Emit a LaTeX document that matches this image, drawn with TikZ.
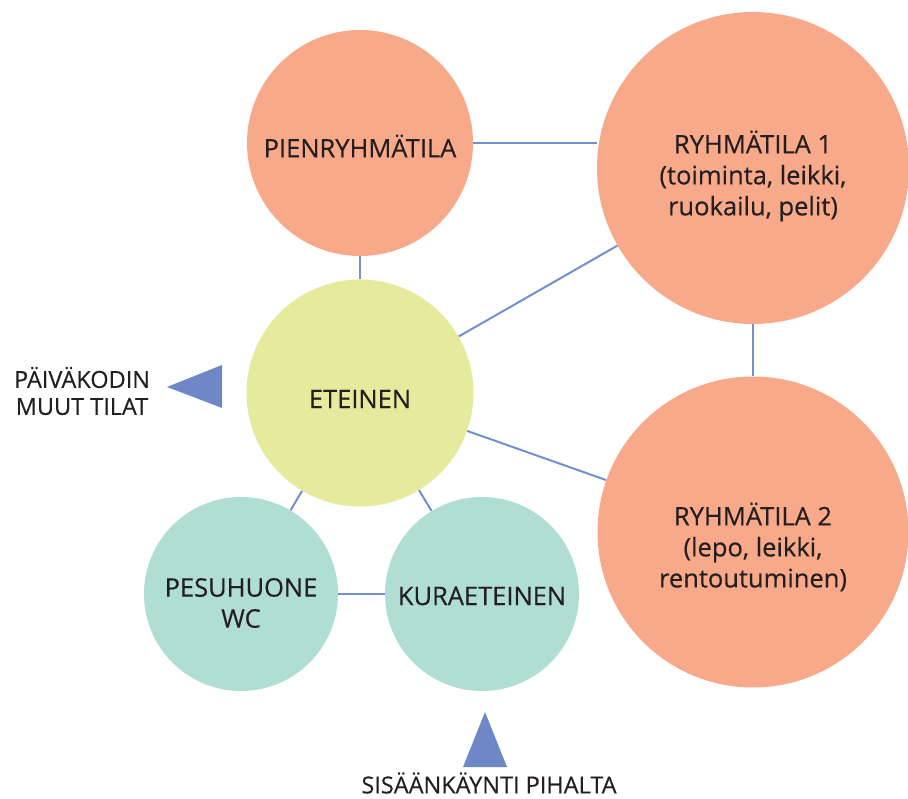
\documentclass[tikz,border=0pt]{standalone}
\usepackage{fontspec}
\setmainfont{Open Sans}[FakeBold=0.3]
\usetikzlibrary{calc,backgrounds}
\definecolor{salmon}{HTML}{F8A98A}
\definecolor{hallyellow}{HTML}{E6EA9C}
\definecolor{teal}{HTML}{B0DED3}
\definecolor{linecol}{HTML}{7290CF}
\definecolor{tricol}{HTML}{6E87C7}
\definecolor{txtcol}{HTML}{231F20}
\begin{document}
\begin{tikzpicture}[x=1pt,y=-1pt,
  room/.style={circle, inner sep=0pt, draw=none},
  conn/.style={draw=linecol, line width=2pt},
  txt/.style={font=\fontsize{25.5}{31}\selectfont, text=txtcol, align=center},
  lbl/.style={font=\fontsize{23.5}{27}\selectfont, text=txtcol, align=center, inner sep=0pt},
  tri/.style={fill=tricol, draw=none}]
\useasboundingbox (0,0) rectangle (908,799);
% rooms
\node[room, fill=salmon, minimum size=226pt] (pien) at (360,143) {};
\node[room, fill=salmon, minimum size=312pt] (r1) at (753,168) {};
\node[room, fill=hallyellow, minimum size=227pt] (et) at (360,393) {};
\node[room, fill=salmon, minimum size=311pt] (r2) at (753,532) {};
\node[room, fill=teal, minimum size=194pt] (pesu) at (241,594) {};
\node[room, fill=teal, minimum size=194pt] (kura) at (482,594) {};
% texts
\node[txt] at ($(pien.center)+(0,3)$) {PIENRYHMÄTILA};
\node[txt] at ($(r1.center)+(0,8)$) {RYHMÄTILA 1\\(toiminta, leikki,\\ruokailu, pelit)};
\node[txt] at (et.center) [yshift=-6pt] {ETEINEN};
\node[txt] at ($(r2.center)+(0,15)$) {RYHMÄTILA 2\\(lepo, leikki,\\rentoutuminen)};
\node[txt] at ($(pesu.center)+(0,9)$) {PESUHUONE\\WC};
\node[txt] at ($(kura.center)+(0,2)$) {KURAETEINEN};
% connectors
\begin{scope}[on background layer]
\draw[conn] (pien) -- (et);
\draw[conn] (pien.east) -- (pien.east -| r1.west);
\draw[conn] (et) -- (r1);
\draw[conn] (et) -- (r2);
\draw[conn] (r1) -- (r2);
\draw[conn] (et) -- (pesu);
\draw[conn] (et) -- (kura);
\draw[conn] (pesu) -- (kura);
\end{scope}
% arrows / labels
\fill[tri] (167,387) -- (222,365) -- (222,408) -- cycle;
\node[lbl] (muut) at (82,391) {PÄIVÄKODIN\\MUUT TILAT};
\fill[tri] (485,712) -- (507,767) -- (463,767) -- cycle;
\node[lbl] (sis) at (489,783) {SISÄÄNKÄYNTI PIHALTA};
\end{tikzpicture}
\end{document}
